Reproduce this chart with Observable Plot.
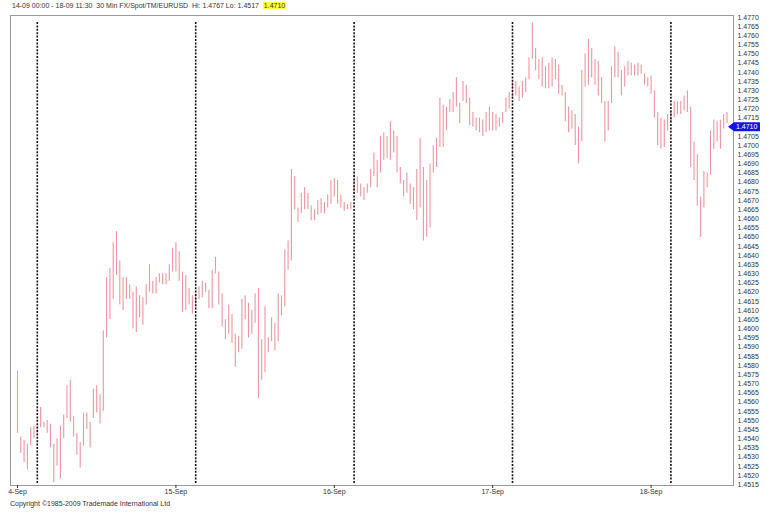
<!DOCTYPE html>
<html><head><meta charset="utf-8">
<script src="https://cdn.jsdelivr.net/npm/d3@7"></script>
<script src="https://cdn.jsdelivr.net/npm/@observablehq/plot@0.6"></script>
<style>
body{margin:0;background:#fff;}
#wrap{position:relative;width:767px;height:512px;font-family:"Liberation Sans",Arial,sans-serif;overflow:hidden;}
#hdr{position:absolute;left:12px;top:1px;font-size:7px;line-height:9px;color:#333;white-space:pre;}
#hdr span{background:#ffff40;padding:0 1px;}
#copy{position:absolute;left:10px;top:499px;font-size:7px;line-height:9px;color:#333;white-space:pre;}
</style></head>
<body><div id="wrap"><div id="chart"></div>
<div id="hdr">14-09 00:00 - 18-09 11:30  30 Min FX/Spot/TM/EURUSD  Hi: 1.4767 Lo: 1.4517  <span>1.4710</span></div>
<div id="copy">Copyright ©1985-2009 Trademade International Ltd</div></div>
<script>
const highs = [
1.4577,1.4541,1.4539,1.4537,1.4546,1.4547,1.4546,1.4557,1.4549,1.4550,
1.4548,1.4537,1.4540,1.4547,1.4553,1.4569,1.4572,1.4552,1.4543,1.4538,
1.4554,1.4554,1.4549,1.4567,1.4569,1.4564,1.4599,1.4628,1.4633,1.4647,
1.4653,1.4637,1.4628,1.4628,1.4624,1.4620,1.4623,1.4618,1.4617,1.4624,
1.4635,1.4626,1.4628,1.4630,1.4630,1.4630,1.4635,1.4644,1.4647,1.4642,
1.4631,1.4629,1.4622,1.4618,1.4619,1.4623,1.4626,1.4625,1.4621,1.4632,
1.4639,1.4631,1.4619,1.4605,1.4613,1.4608,1.4597,1.4596,1.4616,1.4618,
1.4614,1.4610,1.4619,1.4622,1.4594,1.4612,1.4595,1.4606,1.4603,1.4619,
1.4618,1.4643,1.4648,1.4687,1.4683,1.4666,1.4674,1.4677,1.4674,1.4667,
1.4665,1.4670,1.4671,1.4669,1.4673,1.4681,1.4682,1.4681,1.4673,1.4669,
1.4668,1.4669,1.4685,1.4683,1.4679,1.4677,1.4679,1.4687,1.4696,1.4692,
1.4705,1.4707,1.4705,1.4713,1.4708,1.4705,1.4688,1.4681,1.4685,1.4679,
1.4677,1.4687,1.4704,1.4688,1.4681,1.4690,1.4700,1.4704,1.4726,1.4722,
1.4721,1.4725,1.4729,1.4737,1.4723,1.4735,1.4733,1.4726,1.4718,1.4715,
1.4715,1.4714,1.4718,1.4721,1.4718,1.4717,1.4715,1.4718,1.4726,1.4729,
1.4735,1.4735,1.4732,1.4735,1.4737,1.4748,1.4767,1.4753,1.4747,1.4748,
1.4743,1.4745,1.4748,1.4747,1.4744,1.4733,1.4729,1.4721,1.4719,1.4717,
1.4710,1.4741,1.4750,1.4758,1.4753,1.4747,1.4746,1.4737,1.4724,1.4724,
1.4743,1.4754,1.4751,1.4741,1.4743,1.4746,1.4745,1.4744,1.4745,1.4744,
1.4739,1.4737,1.4738,1.4730,1.4718,1.4715,1.4714,1.4717,1.4719,1.4724,
1.4724,1.4724,1.4727,1.4730,1.4721,1.4702,1.4695,1.4672,1.4686,1.4685,
1.4708,1.4714,1.4713,1.4714,1.4717,1.4718];
const lows = [
1.4543,1.4532,1.4527,1.4523,1.4536,1.4540,1.4542,1.4546,1.4546,1.4543,
1.4535,1.4516,1.4525,1.4518,1.4540,1.4551,1.4549,1.4541,1.4531,1.4524,
1.4536,1.4545,1.4535,1.4551,1.4554,1.4548,1.4555,1.4595,1.4605,1.4616,
1.4629,1.4613,1.4610,1.4616,1.4616,1.4600,1.4598,1.4606,1.4602,1.4613,
1.4620,1.4619,1.4619,1.4625,1.4624,1.4624,1.4626,1.4631,1.4631,1.4626,
1.4609,1.4610,1.4613,1.4608,1.4612,1.4616,1.4617,1.4620,1.4611,1.4611,
1.4630,1.4613,1.4601,1.4594,1.4597,1.4592,1.4579,1.4587,1.4589,1.4605,
1.4595,1.4597,1.4603,1.4562,1.4572,1.4576,1.4587,1.4593,1.4588,1.4593,
1.4607,1.4612,1.4632,1.4637,1.4665,1.4658,1.4663,1.4665,1.4665,1.4659,
1.4659,1.4662,1.4663,1.4663,1.4666,1.4668,1.4672,1.4668,1.4666,1.4664,
1.4665,1.4665,1.4674,1.4674,1.4672,1.4670,1.4674,1.4677,1.4683,1.4677,
1.4685,1.4692,1.4693,1.4692,1.4696,1.4685,1.4679,1.4672,1.4674,1.4668,
1.4665,1.4659,1.4666,1.4648,1.4650,1.4655,1.4685,1.4688,1.4699,1.4699,
1.4708,1.4718,1.4718,1.4721,1.4712,1.4724,1.4723,1.4711,1.4710,1.4708,
1.4707,1.4705,1.4707,1.4708,1.4708,1.4708,1.4710,1.4712,1.4718,1.4720,
1.4726,1.4727,1.4724,1.4726,1.4729,1.4736,1.4747,1.4741,1.4736,1.4732,
1.4731,1.4731,1.4732,1.4736,1.4728,1.4727,1.4713,1.4707,1.4709,1.4700,
1.4690,1.4702,1.4732,1.4733,1.4737,1.4733,1.4727,1.4723,1.4702,1.4708,
1.4723,1.4737,1.4737,1.4727,1.4732,1.4738,1.4738,1.4738,1.4738,1.4739,
1.4733,1.4732,1.4728,1.4715,1.4700,1.4698,1.4699,1.4708,1.4712,1.4715,
1.4717,1.4717,1.4719,1.4718,1.4688,1.4681,1.4667,1.4650,1.4666,1.4677,
1.4684,1.4698,1.4702,1.4698,1.4709,1.4712];
const dayTickIndex = [0, 48, 96, 144, 192];
const dayTickLabels = ["4-Sep", "15-Sep", "16-Sep", "17-Sep", "18-Sep"];
const separatorIndex = [6, 54, 102, 150, 198];
const priceTicks = [1.4515,1.4520,1.4525,1.4530,1.4535,1.4540,1.4545,1.4550,1.4555,1.4560,
1.4565,1.4570,1.4575,1.4580,1.4585,1.4590,1.4595,1.4600,1.4605,1.4610,1.4615,1.4620,
1.4625,1.4630,1.4635,1.4640,1.4645,1.4650,1.4655,1.4660,1.4665,1.4670,1.4675,1.4680,
1.4685,1.4690,1.4695,1.4700,1.4705,1.4710,1.4715,1.4720,1.4725,1.4730,1.4735,1.4740,
1.4745,1.4750,1.4755,1.4760,1.4765,1.4770];
const lastClose = 1.4710;

const bars = highs.map((h, i) => ({i, high: h, low: lows[i]}));

const chart = Plot.plot({
  width: 767, height: 512,
  marginTop: 15, marginBottom: 27, marginLeft: 10, marginRight: 34,
  style: {fontFamily: "Liberation Sans, Arial, sans-serif", background: "#fff", color: "#333"},
  x: {domain: [-2.12, 216.97]},
  y: {domain: [1.45145, 1.4771]},
  marks: [
    Plot.ruleX(bars, {x: "i", y1: "low", y2: "high", stroke: "#f0959e", strokeWidth: 1.1}),
    Plot.ruleX(separatorIndex, {x: d => d, stroke: "#111", strokeWidth: 1.6, strokeDasharray: "2,1.4", insetTop: 7, insetBottom: 2}),
    Plot.frame({stroke: "#9a9a9a"}),
    Plot.axisY({anchor: "right", ticks: priceTicks.filter(t => Math.abs(t - lastClose) > 1e-9), tickFormat: d => d.toFixed(4), tickSize: 0, tickPadding: 4, fontSize: 7, label: null}),
    Plot.axisX({ticks: dayTickIndex, tickFormat: d => dayTickLabels[dayTickIndex.indexOf(d)], tickSize: 3, tickPadding: 1, fontSize: 7, label: null})
  ]
});
document.getElementById("chart").appendChild(chart);

// current price tag on the right axis, positioned through the plot's own scales
const yv = chart.scale("y").apply(lastClose);
const xr = chart.scale("x").range[1];
const svg = d3.select(chart);
svg.append("polygon")
  .attr("points", [[xr - 5, yv], [xr + 1, yv - 4.5], [xr + 27, yv - 4.5], [xr + 27, yv + 4.5], [xr + 1, yv + 4.5]].map(p => p.join(",")).join(" "))
  .attr("fill", "#1414e6");
svg.append("text")
  .attr("x", xr + 3).attr("y", yv).attr("dy", "0.35em")
  .attr("text-anchor", "start")
  .attr("fill", "#fff").attr("font-size", 7)
  .text(lastClose.toFixed(4));
</script></body></html>
